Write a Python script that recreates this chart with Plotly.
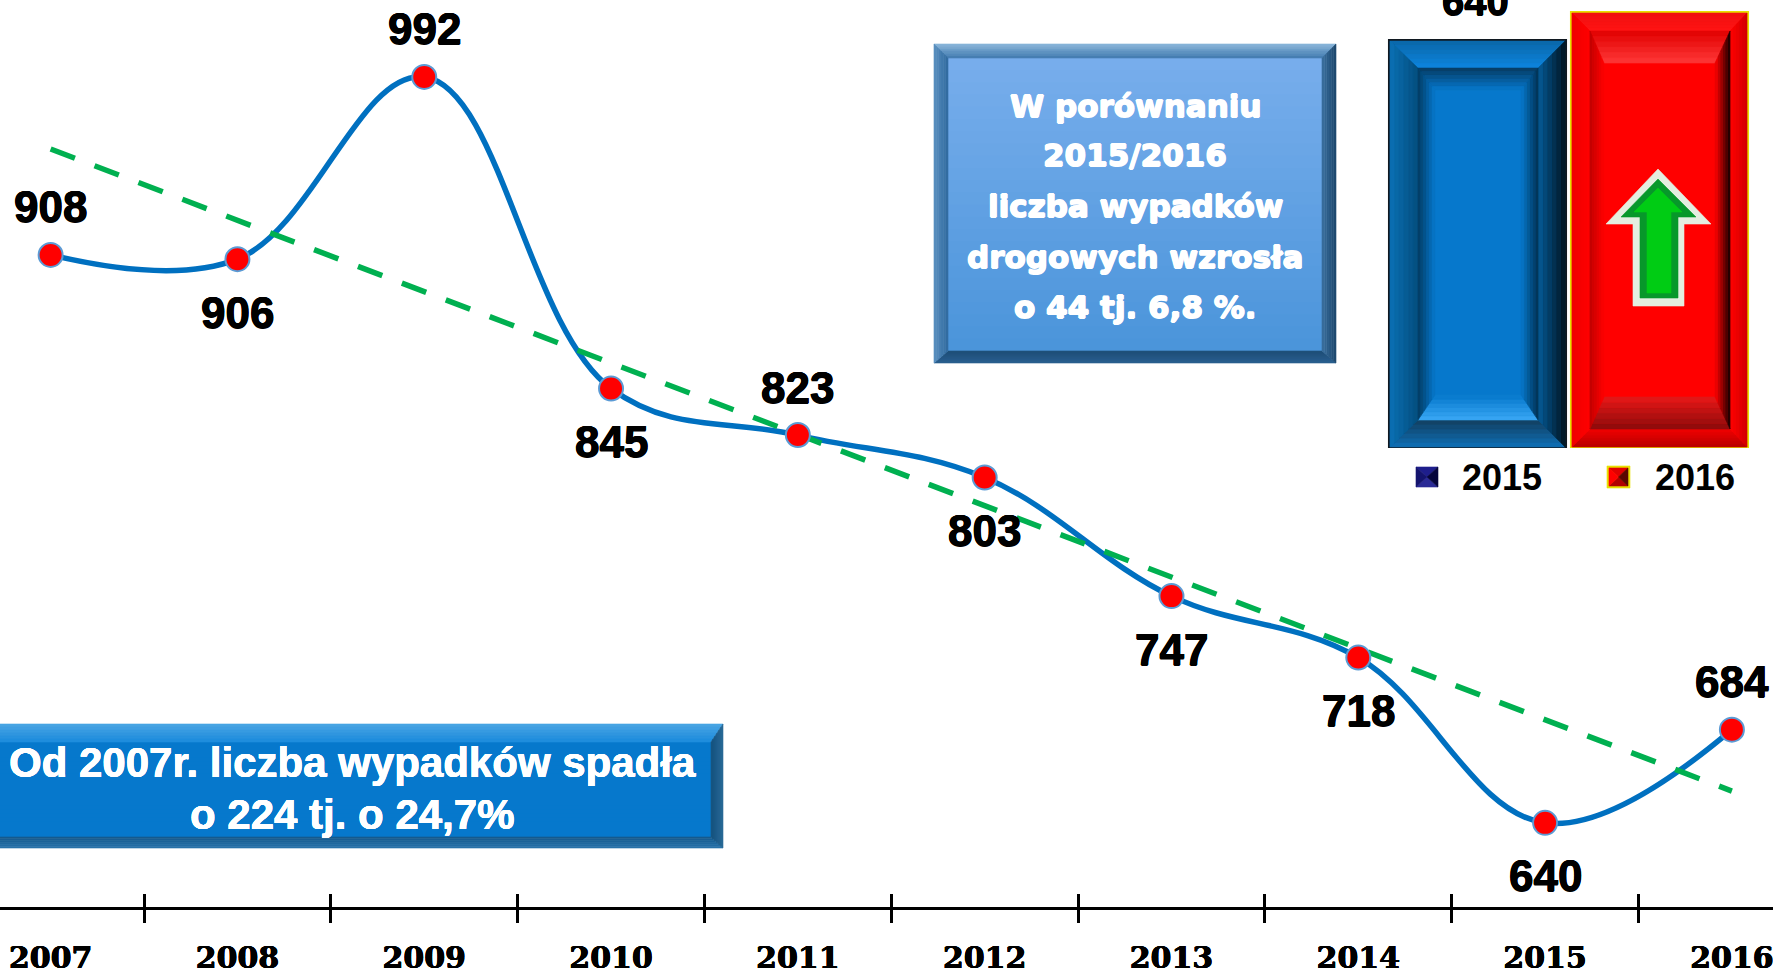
import plotly.graph_objects as go

years = ["2007", "2008", "2009", "2010", "2011", "2012", "2013", "2014", "2015", "2016"]
accidents = [908, 906, 992, 845, 823, 803, 747, 718, 640, 684]
label_side = [1, -1, 1, -1, 1, -1, -1, -1, -1, 1]
trend_years = ["2007", "2016"]
trend_values = [958, 655]
bar_years = ["2015", "2016"]
bar_values = [640, 684]

W, H = 1773, 974
BASE = 907
Y_TOP, Y_BOTTOM = 1028.3, 600.3
BAR_BASE = 448
BAR_UNIT = 0.6374  # px per accident in the inset
BAR_SLOT = 182
BAR_WIDTH = 0.973

LINE = "#0070C0"
GREEN = "#00B050"
SANS = "Liberation Sans"
HEAVY = "DejaVu Sans"
SERIF = "DejaVu Serif"


def heavier(color, d):
    return ", ".join(f"{x}px {y}px 0 {color}" for x, y in [(d, 0), (-d, 0), (0, d), (0, -d)])


def px(x):
    return x / W


def py(y):
    return 1 - y / H


def rgb(c):
    c = c.lstrip("#")
    return [int(c[i:i + 2], 16) for i in (0, 2, 4)]


def mix(a, b, f):
    a, b = rgb(a), rgb(b)
    return "#%02x%02x%02x" % tuple(round(a[i] + (b[i] - a[i]) * f) for i in range(3))


shapes = []


def poly(points, color, xref="paper", yref="paper", edge=0.6):
    path = "M " + " L ".join(f"{x:.5f},{y:.5f}" for x, y in points) + " Z"
    shapes.append(dict(type="path", path=path, xref=xref, yref=yref, fillcolor=color,
                       line=dict(width=edge, color=color)))


def ring(rect, inset, colors, xref="paper", yref="paper", steps=6):
    """Bevel ring inside rect (l, t, r, b; y upward); inset is (dl, dt, dr, db)."""
    l, t, r, b = rect
    dl, dt, dr, db = inset
    for i in range(steps):
        f0, f1 = i / steps, (i + 1) / steps
        L0, L1 = l + f0 * dl, l + f1 * dl
        R0, R1 = r - f0 * dr, r - f1 * dr
        T0, T1 = t - f0 * dt, t - f1 * dt
        B0, B1 = b + f0 * db, b + f1 * db
        g = (i + 0.5) / steps
        poly([(L0, T0), (R0, T0), (R1, T1), (L1, T1)], mix(*colors["top"], g), xref, yref)
        poly([(L0, B0), (R0, B0), (R1, B1), (L1, B1)], mix(*colors["bottom"], g), xref, yref)
        poly([(L0, T0), (L1, T1), (L1, B1), (L0, B0)], mix(*colors["left"], g), xref, yref)
        poly([(R0, T0), (R1, T1), (R1, B1), (R0, B0)], mix(*colors["right"], g), xref, yref)


def bar_bevel(index, value, ring1, cols1, ring2, cols2):
    half = BAR_WIDTH / 2
    ux, uy = 1 / BAR_SLOT, 1 / BAR_UNIT
    rect = [index - half + ux, value - uy, index + half - ux, uy]
    ins1 = (ring1[0] * ux, ring1[1] * uy, ring1[2] * ux, ring1[3] * uy)
    ring(rect, ins1, cols1, "x3", "y3")
    rect2 = [rect[0] + ins1[0], rect[1] - ins1[1], rect[2] - ins1[2], rect[3] + ins1[3]]
    ins2 = (ring2[0] * ux, ring2[1] * uy, ring2[2] * ux, ring2[3] * uy)
    ring(rect2, ins2, cols2, "x3", "y3")


def box(x0, y0, x1, y1, frame, cols, top_fill, bottom_fill):
    rect = [px(x0), py(y0), px(x1), py(y1)]
    ins = (frame[0] / W, frame[1] / H, frame[2] / W, frame[3] / H)
    n = 24
    ix0, iy0, ix1, iy1 = x0 + frame[0], y0 + frame[1], x1 - frame[2], y1 - frame[3]
    for i in range(n):
        a = iy0 + (iy1 - iy0) * i / n
        poly([(px(ix0), py(a)), (px(ix1), py(a)), (px(ix1), py(iy1)), (px(ix0), py(iy1))],
             mix(top_fill, bottom_fill, (i + 0.5) / n), edge=0)
    ring(rect, ins, cols)


# --- bevels of the two inset bars
bar_bevel(0, bar_values[0], (28, 27, 27, 27),
          dict(top=("#0A66A8", "#0D85DE"), left=("#0A70B4", "#044E7E"),
               right=("#01131F", "#055A96"), bottom=("#0E6FB6", "#123F60")),
          (17, 22, 17, 25),
          dict(top=("#063A60", "#0678CC"), left=("#033A60", "#0678CC"),
               right=("#023050", "#0678CC"), bottom=("#3AA8F5", "#0678CC")))
bar_bevel(1, bar_values[1], (18, 18, 17, 18),
          dict(top=("#F01010", "#FF1414"), left=("#F00000", "#FF0000"),
               right=("#D00000", "#FF0000"), bottom=("#B80000", "#F00000")),
          (14, 32, 15, 32),
          dict(top=("#E00000", "#FF3838"), left=("#C00000", "#FF0000"),
               right=("#120000", "#FF0000"), bottom=("#8A0A0A", "#E81818")))

# --- up arrow on the 2016 bar
poly([(px(x), py(y)) for x, y in [(1658, 169), (1711, 224), (1684, 224), (1684, 306),
                                  (1633, 306), (1633, 224), (1606, 224)]], "#E4EEE0")
poly([(px(x), py(y)) for x, y in [(1658, 179), (1696, 217), (1678, 217), (1678, 298),
                                  (1640, 298), (1640, 217), (1621, 217)]], "#07982A")
poly([(px(x), py(y)) for x, y in [(1658, 188), (1682, 212), (1671, 212), (1671, 293),
                                  (1647, 293), (1647, 212), (1634, 212)]], "#00CC14")

# --- inset legend swatches
ring([px(1416), py(467), px(1438), py(487)], (11 / W, 10 / H, 11 / W, 10 / H),
     dict(top=("#1E1E8C", "#1E1E8C"), left=("#14146E", "#14146E"),
          right=("#05053C", "#05053C"), bottom=("#2A2A96", "#2A2A96")), steps=1)
poly([(px(1607), py(466)), (px(1630), py(466)), (px(1630), py(488)), (px(1607), py(488))], "#E8E000")
ring([px(1609), py(468), px(1628), py(486)], (9.5 / W, 9 / H, 9.5 / W, 9 / H),
     dict(top=("#E00000", "#E00000"), left=("#FF0000", "#FF0000"),
          right=("#5A0800", "#5A0800"), bottom=("#B00000", "#B00000")), steps=1)

# --- text boxes
box(934, 44, 1336, 363, (14, 14, 14, 12),
    dict(top=("#8DB8DC", "#3F79AE"), left=("#5C92C2", "#2F6A9E"),
         right=("#1C466C", "#3A6F9E"), bottom=("#2A6090", "#1E4E78")),
    "#78AEEC", "#4A94DA")
box(-20, 724, 723, 848, (0, 18, 12, 11),
    dict(top=("#4BA6E4", "#1B8BDC"), left=("#0678CC", "#0678CC"),
         right=("#2A6A98", "#14527E"), bottom=("#2A74AC", "#13598C")),
    "#0678CC", "#0678CC")

fig = go.Figure()

fig.add_trace(go.Scatter(x=years, y=accidents, mode="lines", xaxis="x", yaxis="y",
                         line=dict(color=LINE, width=5.5, shape="spline", smoothing=1.1),
                         showlegend=False, hoverinfo="skip", cliponaxis=False))
fig.add_trace(go.Scatter(x=trend_years, y=trend_values, mode="lines", xaxis="x2", yaxis="y",
                         line=dict(color=GREEN, width=5.5, dash="26px,21px"),
                         showlegend=False, hoverinfo="skip"))
fig.add_trace(go.Scatter(x=years, y=accidents, mode="markers", xaxis="x2", yaxis="y",
                         marker=dict(color="#FF0000", size=24, line=dict(color="#5B9BD5", width=2)),
                         showlegend=False))
fig.add_trace(go.Bar(x=bar_years, y=bar_values, xaxis="x3", yaxis="y3", width=BAR_WIDTH,
                     marker=dict(color=["#0678CC", "#FF0000"],
                                 line=dict(color=["#101820", "#E8E000"], width=2)),
                     showlegend=False))

annotations = []
for i, (value, side) in enumerate(zip(accidents, label_side)):
    annotations.append(dict(x=i, y=value, xref="x", yref="y", text=str(value), showarrow=False,
                            yshift=48 if side > 0 else -53, xanchor="center", yanchor="middle",
                            font=dict(family=SANS, size=44, color="#000000", weight=700,
                                      shadow=heavier("#000000", 0.5))))

annotations.append(dict(x=0, y=bar_values[0], xref="x3", yref="y3", text=str(bar_values[0]),
                        showarrow=False, yanchor="bottom", yshift=15, xshift=-2,
                        font=dict(family=SANS, size=40, color="#000000", weight=700,
                                  shadow=heavier("#000000", 0.5))))

legend_pos = [1502, 1695]
for year, x in zip(bar_years, legend_pos):
    annotations.append(dict(x=px(x), y=py(477), xref="paper", yref="paper", text=year, showarrow=False,
                            xanchor="center", yanchor="middle",
                            font=dict(family=SANS, size=36, color="#000000", weight=700)))

note_up = ["W porównaniu", "2015/2016", "liczba wypadków", "drogowych wzrosła", "o 44 tj. 6,8 %."]
note_up_y = [106, 155, 206, 257, 307]
for line, y in zip(note_up, note_up_y):
    annotations.append(dict(x=px(1135), y=py(y), xref="paper", yref="paper", text=line, showarrow=False,
                            xanchor="center", yanchor="middle",
                            font=dict(family=HEAVY, size=31, color="#FFFFFF", weight=700,
                                      shadow=heavier("#FFFFFF", 0.8))))

note_down = ["Od 2007r. liczba wypadków spadła", "o 224 tj. o 24,7%"]
note_down_y = [762, 814]
for line, y in zip(note_down, note_down_y):
    annotations.append(dict(x=px(352), y=py(y), xref="paper", yref="paper", text=line, showarrow=False,
                            xanchor="center", yanchor="middle",
                            font=dict(family=SANS, size=42, color="#FFFFFF", weight=700,
                                      shadow=heavier("#FFFFFF", 0.3))))

axis_common = dict(type="category", categoryorder="array", categoryarray=years,
                   range=[-0.271, 9.22], tickson="boundaries", tickcolor="#000000",
                   tickwidth=3, ticklen=13, showgrid=False, zeroline=False)

fig.update_layout(
    width=W, height=H, autosize=False,
    margin=dict(l=0, r=0, t=0, b=0),
    paper_bgcolor="#FFFFFF", plot_bgcolor="rgba(0,0,0,0)",
    showlegend=False,
    xaxis=dict(**axis_common, domain=[0, 1], anchor="y", ticks="outside", showline=True,
               linecolor="#000000", linewidth=3, ticklabelstandoff=22, automargin=False,
               tickfont=dict(family=SERIF, size=30, color="#000000", weight=700,
                             shadow=heavier("#000000", 0.4))),
    xaxis2=dict(**axis_common, domain=[0, 1], anchor="y", overlaying="x", side="bottom",
                ticks="inside", showticklabels=False, showline=False),
    yaxis=dict(range=[Y_BOTTOM, Y_TOP], domain=[1 - BASE / H, 1], visible=False, fixedrange=True),
    xaxis3=dict(type="category", categoryorder="array", categoryarray=bar_years, range=[-0.5, 1.5],
                domain=[px(1386.5), px(1750.5)], anchor="y3", visible=False),
    yaxis3=dict(range=[0, BAR_BASE / BAR_UNIT], domain=[1 - BAR_BASE / H, 1], anchor="x3", visible=False),
    shapes=shapes,
    annotations=annotations,
)

fig.write_html("out.html", config=dict(displayModeBar=False),
               post_script="document.body.style.margin='0';document.documentElement.style.overflow='hidden';")
